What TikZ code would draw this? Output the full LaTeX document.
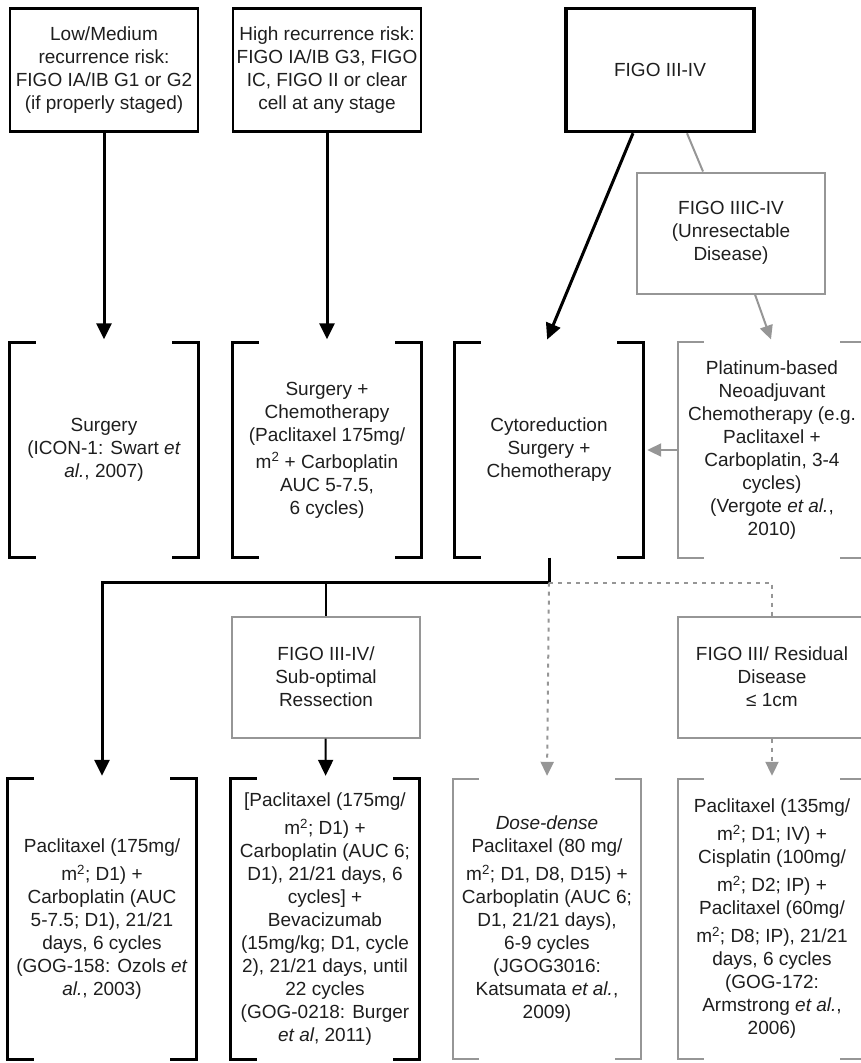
\documentclass[tikz,border=0pt]{standalone}
\usepackage{fontspec}
\setmainfont{Liberation Sans}
\usetikzlibrary{positioning,calc,arrows.meta}

\definecolor{linegray}{RGB}{150,150,150}
\definecolor{ink}{RGB}{30,30,30}

% square brackets round a (undrawn) node
\newcommand{\brackets}[2]{%
  \draw[#2] ($(#1.north west)+(26,0)$) -| (#1.south west) -- ++(26,0);
  \draw[#2] ($(#1.north east)+(-26,0)$) -| (#1.south east) -- ++(-26,0);
}
\newcommand{\msq}{m\textsuperscript{2}}

\begin{document}
\begin{tikzpicture}[
    x=1pt, y=1pt,
    every node/.style={font=\fontsize{19}{23}\selectfont, text=ink, align=center, inner sep=0pt},
    riskbox/.style={draw, line width=2.2pt, minimum width=188pt, minimum height=123pt},
    graybox/.style={draw=linegray, line width=2pt, minimum width=188pt, minimum height=121pt},
    midbrak/.style={minimum width=188pt, minimum height=215pt},
    lowbrak/.style={minimum width=188pt, minimum height=280pt},
    blackbrak/.style={line width=3pt},
    graybrak/.style={draw=linegray, line width=2pt},
    mainarrow/.style={line width=3pt, shorten >=3pt, -{Triangle[length=16pt,width=15pt]}},
    thinline/.style={line width=2pt},
    grayarrow/.style={draw=linegray, line width=2pt, shorten >=3pt, -{Triangle[length=14pt,width=13pt]}},
    dotline/.style={draw=linegray, line width=2pt, dash pattern=on 4pt off 5pt}
  ]
  \useasboundingbox (0,0) rectangle (860,-1063);

  % top row
  \node[riskbox] (lowrisk) at (104,-70) {Low/Medium\\recurrence risk:\\FIGO IA/IB G1 or G2\\(if properly staged)};
  \node[riskbox] (highrisk) at (327,-70) {High recurrence risk:\\FIGO IA/IB G3, FIGO\\IC, FIGO II or clear\\cell at any stage};
  \node[riskbox, line width=3.5pt] (figo34) at (660,-70) {FIGO III-IV};
  \node[graybox] (unres) at (731,-233) {FIGO IIIC-IV\\(Unresectable\\Disease)};

  % middle row
  \node[midbrak] (surgery) at (104,-450) {Surgery\\(ICON-1: Swart \textit{et}\\\textit{al.}, 2007)};
  \node[midbrak] (surgchemo) at (327,-450) {Surgery +\\Chemotherapy\\(Paclitaxel 175mg/\\[4pt]\msq{} + Carboplatin\\AUC 5-7.5,\\6 cycles)};
  \node[midbrak] (cyto) at (549,-450) {Cytoreduction\\Surgery +\\Chemotherapy};
  \node[midbrak] (neoadj) at (772,-450) {Platinum-based\\Neoadjuvant\\Chemotherapy (e.g.\\Paclitaxel +\\Carboplatin, 3-4\\cycles)\\(Vergote \textit{et al.},\\2010)};

  \brackets{surgery}{blackbrak}
  \brackets{surgchemo}{blackbrak}
  \brackets{cyto}{blackbrak}
  \brackets{neoadj}{graybrak}

  % lower boxes
  \node[graybox] (subopt) at (326,-677) {FIGO III-IV/\\Sub-optimal\\Ressection};
  \node[graybox] (resid) at (772,-677) {FIGO III/ Residual\\Disease\\≤ 1cm};

  % bottom row
  \node[lowbrak] (ozols) at (102,-919) {Paclitaxel (175mg/\\[5pt]\msq; D1) +\\Carboplatin (AUC\\5-7.5; D1), 21/21\\days, 6 cycles\\(GOG-158: Ozols \textit{et}\\\textit{al.}, 2003)};
  \node[lowbrak] (burger) at (325,-919) {[Paclitaxel (175mg/\\[5pt]\msq; D1) +\\Carboplatin (AUC 6;\\D1), 21/21 days, 6\\cycles] +\\Bevacizumab\\(15mg/kg; D1, cycle\\2), 21/21 days, until\\22 cycles\\(GOG-0218: Burger\\\textit{et al}, 2011)};
  \node[lowbrak] (katsu) at (547,-919) {\textit{Dose-dense}\\Paclitaxel (80 mg/\\[5pt]\msq; D1, D8, D15) +\\Carboplatin (AUC 6;\\D1, 21/21 days),\\6-9 cycles\\(JGOG3016:\\Katsumata \textit{et al.},\\2009)};
  \node[lowbrak] (armst) at (772,-919) {Paclitaxel (135mg/\\[5pt]\msq; D1; IV) +\\Cisplatin (100mg/\\[5pt]\msq; D2; IP) +\\Paclitaxel (60mg/\\[5pt]\msq; D8; IP), 21/21\\days, 6 cycles\\(GOG-172:\\Armstrong \textit{et al.},\\2006)};

  \brackets{ozols}{blackbrak}
  \brackets{burger}{blackbrak}
  \brackets{katsu}{graybrak}
  \brackets{armst}{graybrak}

  % connectors
  \coordinate (split) at ($(cyto.south)+(0,-25)$);
  \draw[mainarrow] (lowrisk) -- (surgery);
  \draw[mainarrow] (highrisk) -- (surgchemo);
  \draw[mainarrow] ($(figo34.south)+(-27,0)$) -- ($(cyto.north)+(-3,0)$);
  \draw[linegray, line width=2pt] ($(figo34.south)+(27,0)$) -- ($(unres.north)+(-28,0)$);
  \draw[grayarrow] ($(unres.south)+(24,0)$) -- (neoadj.north);
  \draw[grayarrow, shorten >=4pt] (neoadj.west) -- (cyto.east);
  \draw[mainarrow] (cyto.south) -- (split) -| (ozols.north);
  \draw[thinline] (subopt.north |- split) -- (subopt.north);
  \draw[mainarrow, line width=2pt] (subopt) -- (burger);
  \draw[dotline] (split) -| (resid.north);
  \draw[dotline, shorten >=3pt, -{Triangle[length=14pt,width=13pt]}] (split) -- (katsu.north);
  \draw[dotline, shorten >=3pt, -{Triangle[length=14pt,width=13pt]}] (resid) -- (armst);
\end{tikzpicture}
\end{document}
